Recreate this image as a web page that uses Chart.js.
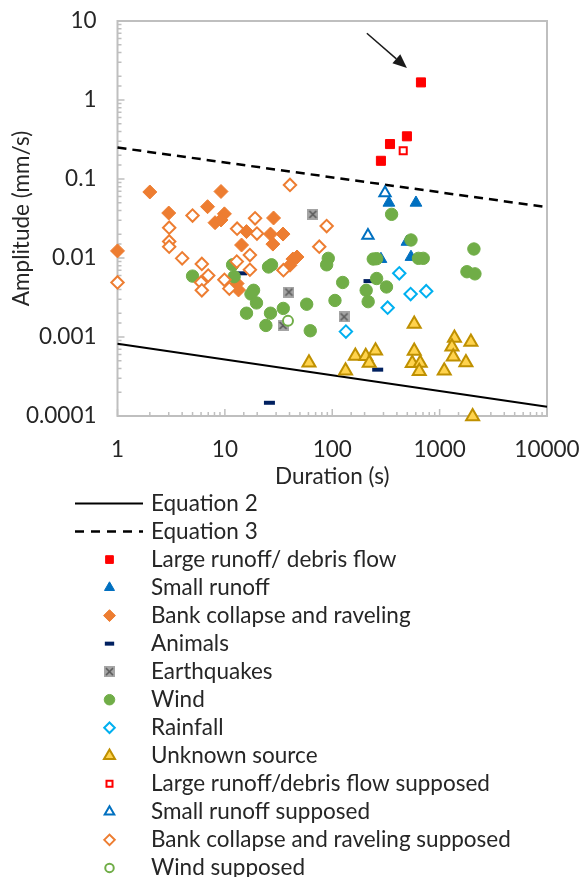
<!DOCTYPE html>
<html>
<head>
<meta charset="utf-8">
<script src="https://cdn.jsdelivr.net/npm/chart.js"></script>
<style>
  html, body { margin: 0; padding: 0; background: #fff; }
  #wrap { width: 580px; height: 877px; }
</style>
</head>
<body>
<div id="wrap"><canvas id="chart" width="580" height="877"></canvas></div>
<script>
// --- データ (Duration s, Amplitude mm/s) ---
const xTickLabels = ["1", "10", "100", "1000", "10000"];
const yTickLabels = ["0.0001", "0.001", "0.01", "0.1", "1", "10"];

const equation2 = [[1, 0.00082], [10000, 0.000131]];
const equation3 = [[1, 0.25], [10000, 0.044]];

const largeRunoff = [[670, 1.67], [496, 0.347], [345, 0.277], [284, 0.17]];
const smallRunoff = [[337, 0.05], [602, 0.05], [496, 0.016], [284, 0.0097], [541, 0.0103]];
const bankCollapse = [
  [1, 0.0123], [2, 0.0685], [3, 0.0371], [6.9, 0.0446], [9.2, 0.0695], [9.9, 0.0362],
  [8.1, 0.028], [9.2, 0.0303], [15.9, 0.0216], [14.3, 0.0146], [28.4, 0.0321], [26.6, 0.0201],
  [34.8, 0.0201], [28, 0.015], [43, 0.0097], [47, 0.0103], [40.4, 0.0081], [13, 0.00475], [13.4, 0.00394]
];
const animals = [[14.3, 0.0064], [26, 0.000147], [265, 0.000386], [220, 0.0051]];
const earthquakes = [[66, 0.0357], [39.5, 0.0037], [34.8, 0.0014], [129, 0.0018]];
const wind = [
  [5, 0.0059], [11.8, 0.0082], [12.2, 0.0058], [18.5, 0.0039], [17.5, 0.0035], [19.7, 0.0027],
  [15.9, 0.002], [26.6, 0.002], [35, 0.0023], [24.1, 0.0014], [25.5, 0.0077], [27.2, 0.0082],
  [57.8, 0.0026], [62.4, 0.0012], [91.8, 0.0099], [88.7, 0.0082], [125, 0.0049], [106, 0.0029],
  [241, 0.0097], [259, 0.0098], [357, 0.0357], [541, 0.0169], [635, 0.0099], [704, 0.0099],
  [2086, 0.013], [1796, 0.0067], [2132, 0.0063], [259, 0.0055], [320, 0.0043], [207, 0.0039], [216, 0.0028]
];
const rainfall = [[421, 0.0064], [537, 0.0035], [750, 0.0038], [328, 0.00235], [134, 0.00117]];
const unknownSource = [
  [60.7, 0.000473], [133, 0.000374], [164, 0.000574], [205, 0.00057], [253, 0.000671], [221, 0.000469],
  [580, 0.00146], [580, 0.000665], [556, 0.000465], [660, 0.000469], [646, 0.000368], [1374, 0.00097],
  [1955, 0.000865], [1302, 0.000754], [1339, 0.000564], [1758, 0.000475], [1104, 0.000374], [2029, 0.0000986]
];
const largeRunoffSupposed = [[458, 0.228]];
const smallRunoffSupposed = [[310, 0.0665], [215, 0.0193]];
const bankSupposed = [
  [40.4, 0.084], [5, 0.0345], [3.03, 0.0242], [3.03, 0.0162], [3.03, 0.0139], [4, 0.0099],
  [6.1, 0.0084], [7, 0.006], [6, 0.0049], [6.1, 0.0039], [1, 0.0049], [13, 0.0235],
  [19.1, 0.0318], [19.9, 0.0204], [17.1, 0.0109], [12.9, 0.009], [17.1, 0.0071], [9.9, 0.0053],
  [11, 0.0041], [35.1, 0.007], [88.7, 0.0254], [75.7, 0.0139]
];
const windSupposed = [[38.7, 0.0016]];

// 矢印 (データ座標)
const arrowFrom = [210, 7.0];
const arrowTo = [496, 2.54];

const FONT = "Lato, 'Open Sans', sans-serif";
const TEXT = "#262626";
const AXIS = "#bfbfbf";

const pts = arr => arr.map(p => ({ x: p[0], y: p[1] }));

// 地震マーカー (灰色の四角 + ×)
function makeQuakeIcon(size) {
  const c = document.createElement("canvas");
  c.width = size; c.height = size;
  const g = c.getContext("2d");
  g.fillStyle = "#a5a5a5";
  g.fillRect(0, 0, size, size);
  g.strokeStyle = "#595959";
  g.lineWidth = 1.6;
  g.beginPath();
  g.moveTo(2, 2); g.lineTo(size - 2, size - 2);
  g.moveTo(size - 2, 2); g.lineTo(2, size - 2);
  g.stroke();
  return c;
}
const quakeIcon = makeQuakeIcon(11);

function markerSet(label, data, style, radius, fill, stroke, bw) {
  return {
    label, data: pts(data), pointStyle: style, pointRadius: radius, pointHoverRadius: radius,
    backgroundColor: fill, borderColor: stroke, pointBackgroundColor: fill,
    pointBorderColor: stroke, pointBorderWidth: bw, borderWidth: bw, clip: false
  };
}

const datasets = [
  { label: "Equation 2", data: pts(equation2), showLine: true, borderColor: "#000", borderWidth: 2,
    pointRadius: 0, legendDash: [], clip: false },
  { label: "Equation 3", data: pts(equation3), showLine: true, borderColor: "#000", borderWidth: 2.5,
    borderDash: [9, 6], pointRadius: 0, legendDash: [9, 7], clip: false },
  markerSet("Large runoff/ debris flow", largeRunoff, "rect", 6.4, "#ff0000", "#ff0000", 1),
  markerSet("Small runoff", smallRunoff, "triangle", 6.8, "#0070c0", "#0070c0", 1),
  markerSet("Bank collapse and raveling", bankCollapse, "rectRot", 7, "#ed7d31", "#ed7d31", 1),
  markerSet("Animals", animals, "line", 5.5, "#002060", "#002060", 4),
  markerSet("Earthquakes", earthquakes, quakeIcon, 6, "#a5a5a5", "#a5a5a5", 0),
  markerSet("Wind", wind, "circle", 6.2, "#70ad47", "#70ad47", 1),
  markerSet("Rainfall", rainfall, "rectRot", 6.2, "#ffffff", "#00b0f0", 2),
  markerSet("Unknown source", unknownSource, "triangle", 7.5, "#ffd34d", "#bf9000", 2),
  markerSet("Large runoff/debris flow supposed", largeRunoffSupposed, "rect", 5, "#ffffff", "#ff0000", 2),
  markerSet("Small runoff supposed", smallRunoffSupposed, "triangle", 6.5, "#ffffff", "#0070c0", 2),
  markerSet("Bank collapse and raveling supposed", bankSupposed, "rectRot", 6.2, "#ffffff", "#ed7d31", 2),
  markerSet("Wind supposed", windSupposed, "circle", 5, "#ffffff", "#70ad47", 2)
];
// 後のシリーズを上に描く (Excelと同じ)
datasets.forEach((d, i) => { d.order = datasets.length - i; });

const isDecade = v => Math.abs(Math.log10(v) - Math.round(Math.log10(v))) < 1e-6;

// ラベルのはみ出し分の余白を消して描画領域を固定
function noOverflowPadding(s) {
  s.paddingLeft = 0; s.paddingRight = 0; s.paddingTop = 0; s.paddingBottom = 0;
}

// 枠と内向きの目盛り
const framePlugin = {
  id: "frame",
  beforeDatasetsDraw(chart) {
    const { ctx, chartArea: a, scales } = chart;
    ctx.save();
    ctx.strokeStyle = AXIS;
    ctx.lineWidth = 1.5;
    ctx.beginPath();
    scales.x.ticks.forEach(t => {
      const px = scales.x.getPixelForValue(t.value);
      const len = isDecade(t.value) ? 7 : 4;
      ctx.moveTo(px, a.bottom); ctx.lineTo(px, a.bottom - len);
    });
    scales.y.ticks.forEach(t => {
      const py = scales.y.getPixelForValue(t.value);
      const len = isDecade(t.value) ? 7 : 4;
      ctx.moveTo(a.left, py); ctx.lineTo(a.left + len, py);
    });
    ctx.stroke();
    ctx.lineWidth = 2;
    ctx.strokeRect(a.left, a.top, a.right - a.left, a.bottom - a.top);
    ctx.restore();
  }
};

// 矢印
const arrowPlugin = {
  id: "arrow",
  afterDatasetsDraw(chart) {
    const { ctx, scales } = chart;
    const x1 = scales.x.getPixelForValue(arrowFrom[0]), y1 = scales.y.getPixelForValue(arrowFrom[1]);
    const x2 = scales.x.getPixelForValue(arrowTo[0]), y2 = scales.y.getPixelForValue(arrowTo[1]);
    const ang = Math.atan2(y2 - y1, x2 - x1);
    const head = 14, half = 6;
    ctx.save();
    ctx.strokeStyle = "#1a1a1a"; ctx.fillStyle = "#1a1a1a"; ctx.lineWidth = 1.5;
    ctx.beginPath();
    ctx.moveTo(x1, y1);
    ctx.lineTo(x2 - Math.cos(ang) * head, y2 - Math.sin(ang) * head);
    ctx.stroke();
    ctx.beginPath();
    ctx.moveTo(x2, y2);
    ctx.lineTo(x2 - Math.cos(ang) * head - Math.sin(ang) * half, y2 - Math.sin(ang) * head + Math.cos(ang) * half);
    ctx.lineTo(x2 - Math.cos(ang) * head + Math.sin(ang) * half, y2 - Math.sin(ang) * head - Math.cos(ang) * half);
    ctx.closePath();
    ctx.fill();
    ctx.restore();
  }
};

// 縦並びの凡例
const listLegend = {
  id: "listLegend",
  afterDraw(chart) {
    const ctx = chart.ctx;
    ctx.save();
    chart.data.datasets.forEach((ds, i) => {
      const y = 503.5 + i * 28.03;
      if (ds.showLine) {
        ctx.strokeStyle = ds.borderColor;
        ctx.lineWidth = ds.borderWidth;
        ctx.setLineDash(ds.legendDash);
        ctx.beginPath(); ctx.moveTo(75, y); ctx.lineTo(143, y); ctx.stroke();
        ctx.setLineDash([]);
      } else {
        ctx.fillStyle = ds.pointBackgroundColor;
        ctx.strokeStyle = ds.pointBorderColor;
        ctx.lineWidth = ds.pointBorderWidth;
        Chart.helpers.drawPoint(ctx, {
          pointStyle: ds.pointStyle, radius: ds.pointRadius * 0.85, rotation: 0,
          borderWidth: ds.pointBorderWidth
        }, 109.5, y);
      }
      ctx.fillStyle = TEXT;
      ctx.font = "22.5px " + FONT;
      ctx.textBaseline = "middle";
      ctx.textAlign = "left";
      ctx.fillText(ds.label, 151, y);
    });
    ctx.restore();
  }
};

new Chart(document.getElementById("chart"), {
  type: "scatter",
  data: { datasets },
  options: {
    responsive: false,
    animation: false,
    devicePixelRatio: 1,
    layout: { padding: { left: 0, top: 21, right: 33, bottom: 381 } },
    plugins: { legend: { display: false }, tooltip: { enabled: false } },
    scales: {
      x: {
        type: "logarithmic", min: 1, max: 10000,
        grid: { display: false, drawTicks: false },
        border: { display: false },
        ticks: {
          autoSkip: false, maxRotation: 0, padding: 20, color: TEXT,
          font: { family: FONT, size: 22.5 },
          callback: v => isDecade(v) ? xTickLabels[Math.round(Math.log10(v))] : ""
        },
        title: { display: true, text: "Duration (s)", color: TEXT,
          font: { family: FONT, size: 22.5 }, padding: { top: 0, bottom: 6 } },
        afterFit: s => { s.height = 80; noOverflowPadding(s); }
      },
      y: {
        type: "logarithmic", min: 0.0001, max: 10,
        grid: { display: false, drawTicks: false },
        border: { display: false },
        ticks: {
          autoSkip: false, padding: 21, color: TEXT,
          font: { family: FONT, size: 22.5 },
          callback: v => isDecade(v) ? yTickLabels[Math.round(Math.log10(v)) + 4] : ""
        },
        title: { display: true, text: "Amplitude (mm/s)", color: TEXT,
          font: { family: FONT, size: 22.5 }, padding: { top: 8, bottom: 0 } },
        afterFit: s => { s.width = 117.5; noOverflowPadding(s); }
      }
    }
  },
  plugins: [framePlugin, arrowPlugin, listLegend]
});
</script>
</body>
</html>
